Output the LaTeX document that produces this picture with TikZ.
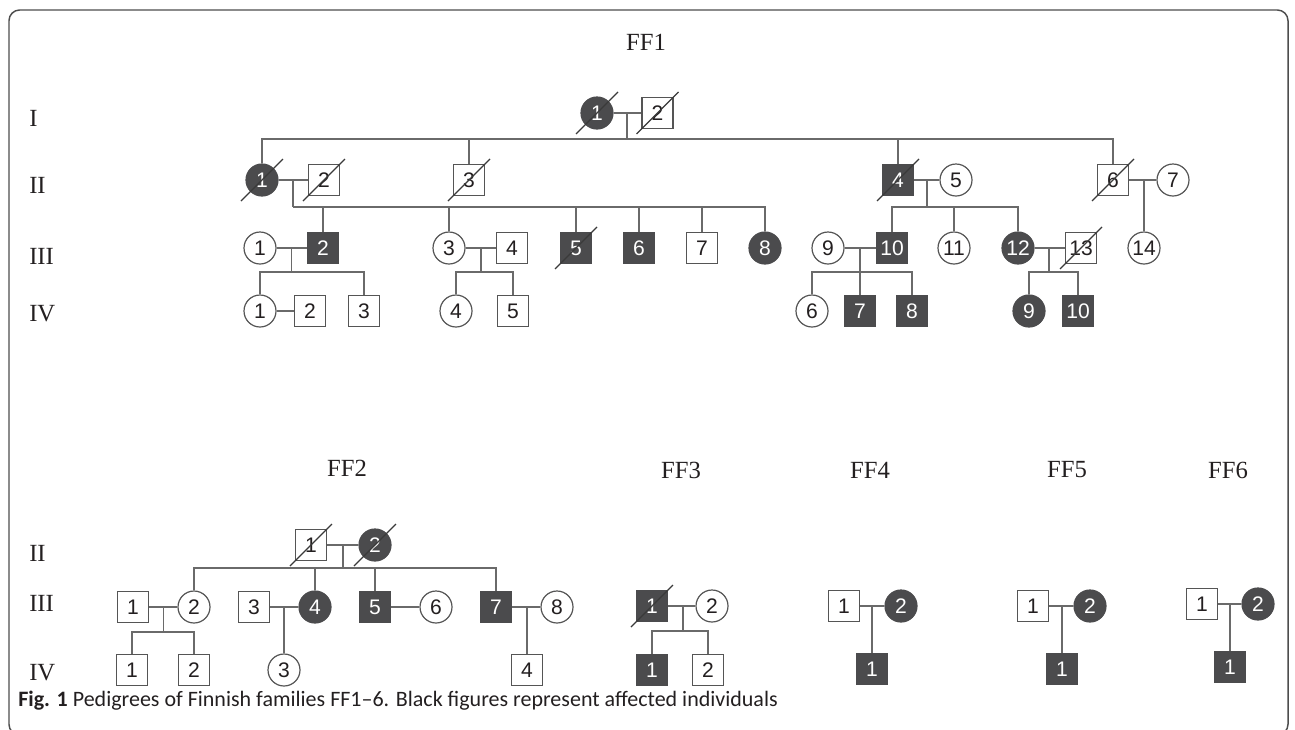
\documentclass[tikz,border=0pt]{standalone}
\usepackage{fontspec}
\setmainfont{Liberation Serif}
\newfontfamily\numfont{Liberation Sans}
\newfontfamily\capfont{Carlito}
\definecolor{affc}{HTML}{4B4B4D}
\definecolor{outl}{HTML}{555555}
\definecolor{linec}{HTML}{6A6A6A}
\definecolor{strikec}{HTML}{3A3A3A}
\definecolor{titc}{HTML}{231F20}
\definecolor{framec}{HTML}{4D4D4D}
\newcommand\deceased[1]{\draw[strike] ([shift={(-21,21)}]#1.center) -- ([shift={(21,-21)}]#1.center);}
\begin{document}
\begin{tikzpicture}[x=0.75pt,y=-0.75pt,
  base/.style={draw=outl, line width=0.9pt, inner sep=0pt, font=\numfont\fontsize{15.8}{17}\selectfont, text=titc},
  sq/.style={base, rectangle, minimum size=23.25pt, fill=white},
  ci/.style={base, circle, minimum size=24pt, fill=white},
  aff/.style={fill=affc, text=white, draw=affc},
  conn/.style={draw=linec, line width=1.0pt},
  strike/.style={draw=strikec, line width=0.9pt},
  gen/.style={anchor=west, inner sep=0pt, font=\fontsize{18.5}{20}\selectfont, text=titc},
  ttl/.style={inner sep=0pt, font=\fontsize{18.5}{20}\selectfont, text=titc}]
\useasboundingbox (0,0) rectangle (1295,729);
\draw[framec, line width=1.1pt, rounded corners=8pt] (9,10) rectangle (1288,735);

% ---------------- FF1 ----------------
\node[ttl] (tFF1) at (646,42) {FF1};
\node[gen] (gaI) at (29,118) {I};
\node[gen] (gaII) at (29,185) {II};
\node[gen] (gaIII) at (29,256) {III};
\node[gen] (gaIV) at (29,314) {IV};

\node[ci,aff] (aI1) at (597,113) {1};
\node[sq] (aI2) at (657.5,113) {2};

\node[ci,aff] (aII1) at (262,180) {1};
\node[sq] (aII2) at (324,180) {2};
\node[sq] (aII3) at (469,180) {3};
\node[sq,aff] (aII4) at (898,180) {4};
\node[ci] (aII5) at (956,180) {5};
\node[sq] (aII6) at (1113,180) {6};
\node[ci] (aII7) at (1173,180) {7};

\node[ci] (aIII1) at (260,248) {1};
\node[sq,aff] (aIII2) at (323,248) {2};
\node[ci] (aIII3) at (449,248) {3};
\node[sq] (aIII4) at (512,248) {4};
\node[sq,aff] (aIII5) at (576,248) {5};
\node[sq,aff] (aIII6) at (639,248) {6};
\node[sq] (aIII7) at (702,248) {7};
\node[ci,aff] (aIII8) at (765,248) {8};
\node[ci] (aIII9) at (828,248) {9};
\node[sq,aff] (aIII10) at (892,248) {10};
\node[ci] (aIII11) at (954,248) {11};
\node[ci,aff] (aIII12) at (1018,248) {12};
\node[sq] (aIII13) at (1081,248) {13};
\node[ci] (aIII14) at (1144,248) {14};

\node[ci] (aIV1) at (260,311) {1};
\node[sq] (aIV2) at (310,311) {2};
\node[sq] (aIV3) at (364,311) {3};
\node[ci] (aIV4) at (456,311) {4};
\node[sq] (aIV5) at (513,311) {5};
\node[ci] (aIV6) at (812,311) {6};
\node[sq,aff] (aIV7) at (860,311) {7};
\node[sq,aff] (aIV8) at (912,311) {8};
\node[ci,aff] (aIV9) at (1029,311) {9};
\node[sq,aff] (aIV10) at (1078,311) {10};

\coordinate (amI) at (627,113);   \coordinate (asI) at (627,139);
\coordinate (am12) at (293,180);  \coordinate (as12) at (293,207);
\coordinate (am45) at (927,180);  \coordinate (as45) at (927,207);
\coordinate (am67) at (1144,180);
\coordinate (amIII12) at (291.5,248); \coordinate (asIII12) at (291.5,272);
\coordinate (amIII34) at (481,248);   \coordinate (asIII34) at (481,272);
\coordinate (amIII910) at (860,248);  \coordinate (asIII910) at (860,272);
\coordinate (amIII1213) at (1049,248); \coordinate (asIII1213) at (1049,272);

\draw[conn] (aI1) -- (aI2);
\draw[conn] (amI) -- (asI);
\foreach \c in {aII1,aII3,aII4,aII6} \draw[conn] (\c) |- (asI);
\draw[conn] (aII1) -- (aII2);
\draw[conn] (am12) -- (as12);
\foreach \c in {aIII2,aIII3,aIII5,aIII6,aIII7,aIII8} \draw[conn] (\c) |- (as12);
\draw[conn] (aII4) -- (aII5);
\draw[conn] (am45) -- (as45);
\foreach \c in {aIII10,aIII11,aIII12} \draw[conn] (\c) |- (as45);
\draw[conn] (aII6) -- (aII7);
\draw[conn] (am67) -- (aIII14);
\draw[conn] (aIII1) -- (aIII2);
\draw[conn] (amIII12) -- (asIII12);
\foreach \c in {aIV1,aIV3} \draw[conn] (\c) |- (asIII12);
\draw[conn] (aIV1) -- (aIV2);
\draw[conn] (aIII3) -- (aIII4);
\draw[conn] (amIII34) -- (asIII34);
\foreach \c in {aIV4,aIV5} \draw[conn] (\c) |- (asIII34);
\draw[conn] (aIII9) -- (aIII10);
\draw[conn] (amIII910) -- (asIII910);
\foreach \c in {aIV6,aIV7,aIV8} \draw[conn] (\c) |- (asIII910);
\draw[conn] (aIII12) -- (aIII13);
\draw[conn] (amIII1213) -- (asIII1213);
\foreach \c in {aIV9,aIV10} \draw[conn] (\c) |- (asIII1213);

\deceased{aI1} \deceased{aI2} \deceased{aII1} \deceased{aII2}
\deceased{aII3} \deceased{aII4} \deceased{aII6} \deceased{aIII5}
\deceased{aIII13}

% ---------------- FF2 ----------------
\node[ttl] (tFF2) at (347,468) {FF2};
\node[gen] (gbII) at (29,553) {II};
\node[gen] (gbIII) at (29,603) {III};
\node[gen] (gbIV) at (29,673) {IV};

\node[sq] (bII1) at (311,545) {1};
\node[ci,aff] (bII2) at (375,545) {2};
\node[sq] (bIII1) at (133,607) {1};
\node[ci] (bIII2) at (194,607) {2};
\node[sq] (bIII3) at (254,607) {3};
\node[ci,aff] (bIII4) at (315,607) {4};
\node[sq,aff] (bIII5) at (375,607) {5};
\node[ci] (bIII6) at (436,607) {6};
\node[sq,aff] (bIII7) at (496,607) {7};
\node[ci] (bIII8) at (557,607) {8};
\node[sq] (bIV1) at (132,670) {1};
\node[sq] (bIV2) at (194,670) {2};
\node[ci] (bIV3) at (284,670) {3};
\node[sq] (bIV4) at (527,670) {4};

\coordinate (bm12) at (343,545); \coordinate (bs12) at (343,568);
\coordinate (bmIII12) at (163.5,607); \coordinate (bsIII12) at (163.5,632);
\coordinate (bmIII34) at (284,607);
\coordinate (bmIII78) at (527,607);

\draw[conn] (bII1) -- (bII2);
\draw[conn] (bm12) -- (bs12);
\foreach \c in {bIII2,bIII4,bIII5,bIII7} \draw[conn] (\c) |- (bs12);
\draw[conn] (bIII1) -- (bIII2);
\draw[conn] (bmIII12) -- (bsIII12);
\foreach \c in {bIV1,bIV2} \draw[conn] (\c) |- (bsIII12);
\draw[conn] (bIII3) -- (bIII4);
\draw[conn] (bmIII34) -- (bIV3);
\draw[conn] (bIII5) -- (bIII6);
\draw[conn] (bIII7) -- (bIII8);
\draw[conn] (bmIII78) -- (bIV4);

\deceased{bII1} \deceased{bII2}

% ---------------- FF3 ----------------
\node[ttl] (tFF3) at (681,470) {FF3};
\node[sq,aff] (cIII1) at (652,606) {1};
\node[ci] (cIII2) at (712,606) {2};
\node[sq,aff] (cIV1) at (652,670) {1};
\node[sq] (cIV2) at (708,670) {2};
\coordinate (cm) at (683,606); \coordinate (cs) at (683,631);
\draw[conn] (cIII1) -- (cIII2);
\draw[conn] (cm) -- (cs);
\foreach \c in {cIV1,cIV2} \draw[conn] (\c) |- (cs);
\deceased{cIII1}

% ---------------- FF4 ----------------
\node[ttl] (tFF4) at (870,470) {FF4};
\node[sq] (dIII1) at (844,606) {1};
\node[ci,aff] (dIII2) at (901,606) {2};
\node[sq,aff] (dIV1) at (872,669) {1};
\coordinate (dm) at (872,606);
\draw[conn] (dIII1) -- (dIII2);
\draw[conn] (dm) -- (dIV1);

% ---------------- FF5 ----------------
\node[ttl] (tFF5) at (1067,470) {FF5};
\node[sq] (eIII1) at (1033,606) {1};
\node[ci,aff] (eIII2) at (1090,606) {2};
\node[sq,aff] (eIV1) at (1062,669) {1};
\coordinate (em) at (1062,606);
\draw[conn] (eIII1) -- (eIII2);
\draw[conn] (em) -- (eIV1);

% ---------------- FF6 ----------------
\node[ttl] (tFF6) at (1228,470) {FF6};
\node[sq] (fIII1) at (1202,604) {1};
\node[ci,aff] (fIII2) at (1258,604) {2};
\node[sq,aff] (fIV1) at (1230,667) {1};
\coordinate (fm) at (1230,604);
\draw[conn] (fIII1) -- (fIII2);
\draw[conn] (fm) -- (fIV1);

% ---------------- caption ----------------
\node[anchor=west, inner sep=0pt, text=titc, font=\capfont\fontsize{16.5}{18}\selectfont] (cap) at (18,701)
  {\textbf{Fig. 1} Pedigrees of Finnish families FF1–6. Black figures represent affected individuals};
\end{tikzpicture}
\end{document}
